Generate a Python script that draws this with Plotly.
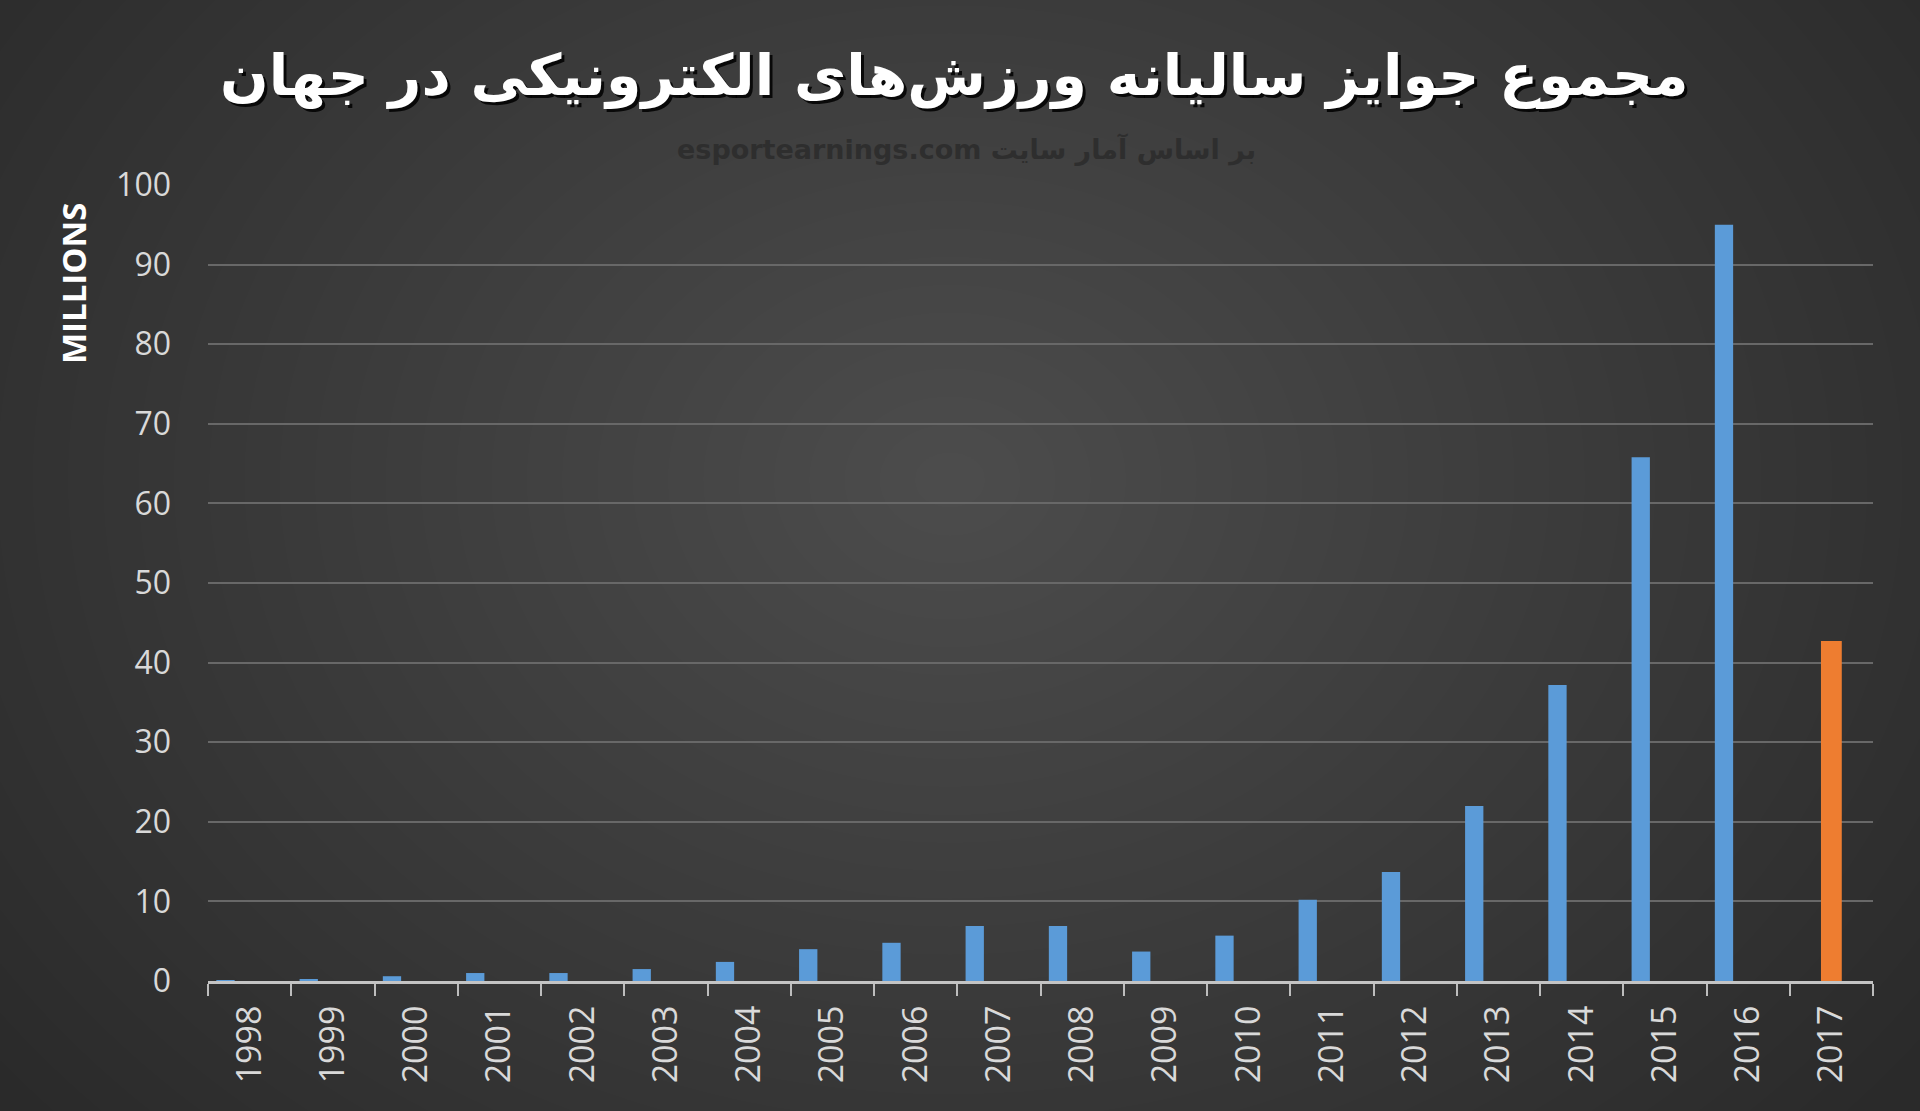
import plotly.graph_objects as go

# ---- data ----
years = [str(y) for y in range(1998, 2018)]
prize_millions = [0.1, 0.2, 0.6, 1.0, 1.0, 1.5, 2.4, 4.0, 4.8, 6.9,
                  6.9, 3.7, 5.7, 10.2, 13.7, 22.0, 37.2, 65.8, 95.0, 42.7]
y_ticks = list(range(0, 101, 10))
title_text = "مجموع جوایز سالیانه ورزش\u200cهای الکترونیکی در جهان"
subtitle_text = "esportearnings.com بر اساس آمار سایت"
y_title = "MILLIONS"

# ---- layout geometry ----
W, H = 1920, 1111
ML, MR, MT, MB = 208, 47, 185, 130
PW = W - ML - MR
PH = H - MT - MB


def px(x):
    return (x - ML) / PW


def py(y):
    return (H - MB - y) / PH


fig = go.Figure()
fig.add_trace(go.Bar(
    x=years[:-1], y=prize_millions[:-1],
    marker=dict(color="#5b9bd8", line=dict(width=0)),
    width=0.22, offset=-0.40, hoverinfo="x+y",
))
fig.add_trace(go.Bar(
    x=years[-1:], y=prize_millions[-1:],
    marker=dict(color="#ee7d30", line=dict(width=0)),
    width=0.25, offset=-0.125, hoverinfo="x+y",
))

# radial-ish background gradient via stacked translucent ellipses
shapes = []
n = 34
cx, cy = px(950), py(480)
for i in range(n):
    f = 1 - i / n
    rx = 1200 * f / PW
    ry = 950 * f / PH
    shapes.append(dict(
        type="circle", xref="paper", yref="paper", layer="below",
        x0=cx - rx, x1=cx + rx, y0=cy - ry, y1=cy + ry,
        fillcolor="rgba(255,255,255,0.0098)", line=dict(width=0),
    ))

annotations = [
    # title shadow
    dict(text=f"<b>{title_text}</b>", x=px(957), y=py(79), xref="paper", yref="paper",
         showarrow=False, font=dict(family="DejaVu Sans", size=57, color="rgba(0,0,0,0.85)"),
         xanchor="center", yanchor="middle"),
    dict(text=f"<b>{title_text}</b>", x=px(954), y=py(76), xref="paper", yref="paper",
         showarrow=False, font=dict(family="DejaVu Sans", size=57, color="#ffffff"),
         xanchor="center", yanchor="middle"),
    dict(text=f"<b>{subtitle_text}</b>", x=px(966), y=py(150), xref="paper", yref="paper",
         showarrow=False, font=dict(family="DejaVu Sans", size=27, color="#2e2e2e"),
         xanchor="center", yanchor="middle"),
    dict(text=f"<b>{y_title}</b>", x=px(73), y=py(283), xref="paper", yref="paper",
         showarrow=False, textangle=-90,
         font=dict(family="Open Sans", size=33, color="#ffffff"),
         xanchor="center", yanchor="middle"),
]

fig.update_layout(
    width=W, height=H,
    margin=dict(l=ML, r=MR, t=MT, b=MB, pad=0),
    paper_bgcolor="#2a2a2a",
    plot_bgcolor="rgba(0,0,0,0)",
    barmode="overlay",
    showlegend=False,
    shapes=shapes,
    annotations=annotations,
    xaxis=dict(
        type="category", categoryorder="array", categoryarray=years,
        range=[-0.5, len(years) - 0.5],
        tickson="boundaries", ticks="outside", ticklen=12, tickwidth=2,
        tickcolor="#bdbdbd", showline=True, linecolor="#c4c4c4", linewidth=3,
        showgrid=False, tickangle=-90, ticklabelstandoff=8,
        tickfont=dict(family="Open Sans", size=34, color="#d9d9d9"),
    ),
    yaxis=dict(
        range=[0, 100], tickvals=y_ticks, showgrid=True,
        gridcolor="#686868", gridwidth=2, zeroline=False, showline=False,
        ticks="", ticklabelstandoff=36,
        tickfont=dict(family="Open Sans", size=32, color="#d9d9d9"),
    ),
)

fig.write_html(
    "out.html",
    config={"displayModeBar": False},
    post_script="document.body.style.margin='0';document.body.style.overflow='hidden';",
)
